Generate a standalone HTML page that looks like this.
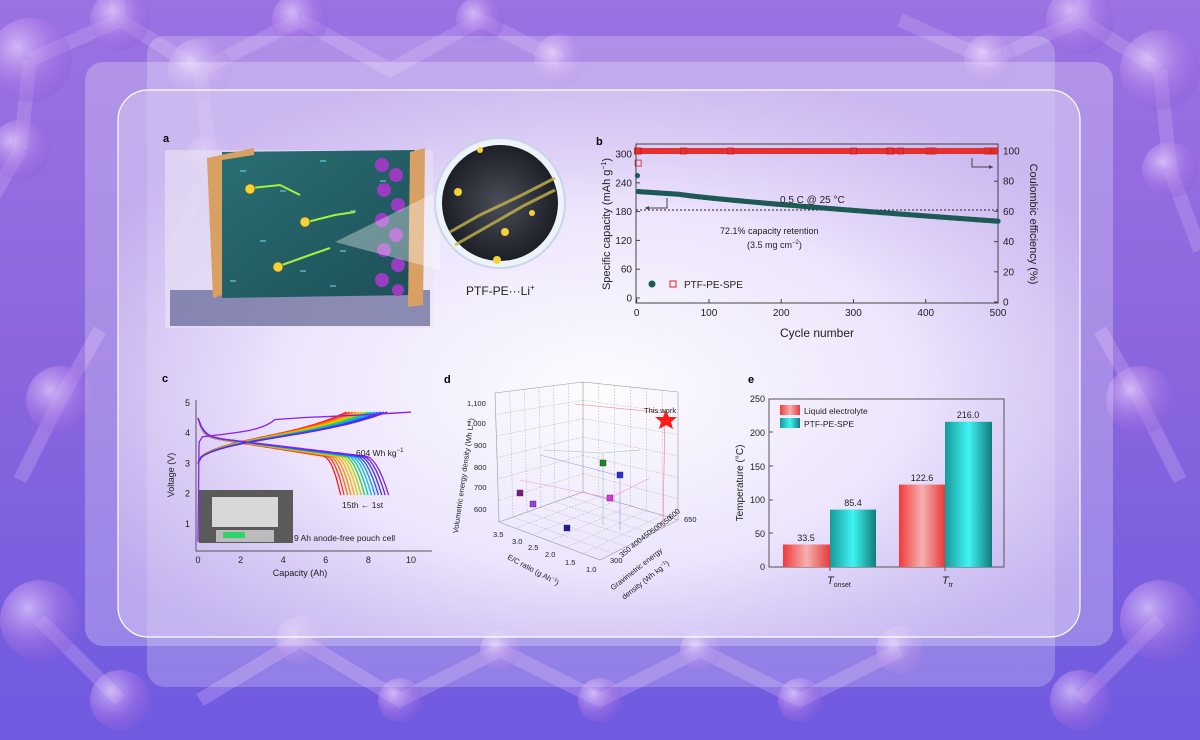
<!DOCTYPE html>
<html><head><meta charset="utf-8">
<style>
html,body{margin:0;padding:0;width:1200px;height:740px;overflow:hidden;}
body{background:linear-gradient(180deg,#9a72e2 0%,#8a66de 50%,#6f5ae0 100%);font-family:"Liberation Sans",Arial,sans-serif;position:relative;}
svg{position:absolute;left:0;top:0;}
text{font-family:"Liberation Sans",Arial,sans-serif;}
</style></head>
<body>
<svg width="1200" height="740" viewBox="0 0 1200 740" xmlns="http://www.w3.org/2000/svg">
<defs>
<radialGradient id="glow" cx="0.5" cy="0.55" r="0.6">
<stop offset="0" stop-color="#ffffff" stop-opacity="0.97"/>
<stop offset="0.55" stop-color="#f6f0ff" stop-opacity="0.85"/>
<stop offset="1" stop-color="#d6c4f3" stop-opacity="0.55"/>
</radialGradient>
<radialGradient id="ball" cx="0.35" cy="0.35" r="0.7">
<stop offset="0" stop-color="#e9d6ff" stop-opacity="0.7"/>
<stop offset="0.6" stop-color="#b07ce8" stop-opacity="0.45"/>
<stop offset="1" stop-color="#8a5cd8" stop-opacity="0.3"/>
</radialGradient>
<linearGradient id="redbar" x1="0" x2="1"><stop offset="0" stop-color="#f03a3a"/><stop offset="0.5" stop-color="#f6b0b0"/><stop offset="1" stop-color="#e63a3a"/></linearGradient>
<linearGradient id="cyanbar" x1="0" x2="1"><stop offset="0" stop-color="#159a98"/><stop offset="0.5" stop-color="#3ff4f4"/><stop offset="1" stop-color="#137a7a"/></linearGradient>
<linearGradient id="teal" x1="0" x2="1" y1="0" y2="1"><stop offset="0" stop-color="#2a6f73"/><stop offset="1" stop-color="#1d4f58"/></linearGradient>
<radialGradient id="circ" cx="0.5" cy="0.5" r="0.5"><stop offset="0" stop-color="#4a4e58"/><stop offset="1" stop-color="#1c1f26"/></radialGradient>
</defs>
<!-- background molecules -->
<g id="mol" stroke="#c9a8f2" stroke-opacity="0.35" stroke-width="14" fill="none">
<path d="M30 60 L120 20 L200 70 L300 20 M30 60 L20 150 M200 70 L210 160 M120 20 L110 -40 M300 20 L390 70 L480 20 L560 60 M900 20 L990 60 L1080 20 L1160 70 M1160 70 L1170 170 M1080 20 L1090 -30 M20 150 L-20 220 M210 160 L170 260 M1170 170 L1200 250 M60 400 L20 480 M60 400 L100 330 M1140 400 L1180 480 M1140 400 L1100 330 M40 620 L120 700 M1160 620 L1080 700 M300 640 L400 700 L500 650 L600 700 L700 650 L800 700 L900 650 M200 700 L300 640"/>
</g>
<g fill="url(#ball)">
<circle cx="30" cy="60" r="42"/><circle cx="120" cy="20" r="30"/><circle cx="200" cy="70" r="32"/><circle cx="300" cy="20" r="28"/>
<circle cx="20" cy="150" r="30"/><circle cx="210" cy="160" r="26"/><circle cx="1080" cy="20" r="34"/><circle cx="1160" cy="70" r="40"/>
<circle cx="1170" cy="170" r="28"/><circle cx="990" cy="60" r="26"/><circle cx="60" cy="400" r="34"/><circle cx="1140" cy="400" r="34"/>
<circle cx="40" cy="620" r="40"/><circle cx="1160" cy="620" r="40"/><circle cx="120" cy="700" r="30"/><circle cx="1080" cy="700" r="30"/>
<circle cx="400" cy="700" r="22"/><circle cx="600" cy="700" r="22"/><circle cx="800" cy="700" r="22"/><circle cx="500" cy="650" r="20"/><circle cx="700" cy="650" r="20"/><circle cx="300" cy="640" r="24"/><circle cx="900" cy="650" r="24"/>
<circle cx="560" cy="60" r="26"/><circle cx="480" cy="20" r="24"/>
</g>
<!-- panels -->
<rect x="147" y="36" width="908" height="651" rx="18" fill="#ffffff" fill-opacity="0.22"/>
<rect x="85" y="62" width="1028" height="584" rx="18" fill="#ffffff" fill-opacity="0.25"/>
<rect x="118" y="90" width="962" height="547" rx="30" fill="url(#glow)"/>
<rect x="118" y="90" width="962" height="547" rx="30" fill="none" stroke="#ffffff" stroke-width="1.2"/>

<!-- Panel a -->
<text x="163" y="142" font-size="11" font-weight="bold">a</text>
<rect x="165" y="150" width="268" height="178" fill="#e9e2f4" opacity="0.6"/>
<rect x="170" y="290" width="260" height="36" fill="#3b3f7a" opacity="0.55"/>
<polygon points="222,152 415,150 412,295 222,298" fill="url(#teal)"/>
<g fill="#6fe3ef" opacity="0.5">
<rect x="240" y="170" width="6" height="2"/><rect x="280" y="190" width="6" height="2"/><rect x="320" y="160" width="6" height="2"/><rect x="350" y="210" width="6" height="2"/><rect x="260" y="240" width="6" height="2"/><rect x="300" y="270" width="6" height="2"/><rect x="340" y="250" width="6" height="2"/><rect x="380" y="180" width="6" height="2"/><rect x="230" y="280" width="6" height="2"/><rect x="330" y="285" width="6" height="2"/>
</g>
<g fill="#9a3bc0">
<circle cx="382" cy="165" r="7"/><circle cx="396" cy="175" r="7"/><circle cx="384" cy="190" r="7"/><circle cx="398" cy="205" r="7"/><circle cx="382" cy="220" r="7"/><circle cx="396" cy="235" r="7"/><circle cx="384" cy="250" r="7"/><circle cx="398" cy="265" r="7"/><circle cx="382" cy="280" r="7"/><circle cx="398" cy="290" r="6"/>
</g>
<polygon points="207,158 254,148 254,155 222,160 222,295 213,298" fill="#d9a063"/>
<polygon points="410,152 425,148 423,305 408,307" fill="#d9a063"/>
<g stroke="#a6f23a" stroke-width="2" fill="none"><path d="M252,188 L280,185 L300,195"/><path d="M307,222 L335,215 L355,212"/><path d="M282,265 L310,255 L330,248"/></g>
<g fill="#f3d23a" stroke="#6b5a10" stroke-width="0.6"><circle cx="250" cy="189" r="5"/><circle cx="305" cy="222" r="5"/><circle cx="278" cy="267" r="5"/></g>
<polygon points="335,242 440,190 440,270" fill="#ffffff" opacity="0.35"/>
<circle cx="500" cy="203" r="65" fill="#eef3fb" stroke="#c8d6ea" stroke-width="2"/>
<circle cx="500" cy="203" r="58" fill="url(#circ)"/>
<g stroke="#c6b44a" stroke-width="3" opacity="0.8"><path d="M450,232 L480,215 L520,196 L555,178"/><path d="M455,245 L490,225 L525,205 L555,190"/></g>
<g fill="#f3d23a"><circle cx="458" cy="192" r="4"/><circle cx="505" cy="232" r="4"/><circle cx="497" cy="260" r="4"/><circle cx="532" cy="213" r="3"/><circle cx="480" cy="150" r="3"/></g>
<text x="466" y="295" font-size="12" fill="#222">PTF-PE···Li<tspan font-size="8" dy="-5">+</tspan></text>

<!-- Panel b -->
<text x="596" y="145" font-size="11" font-weight="bold">b</text>
<rect x="636" y="144" width="362" height="159" fill="none" stroke="#444" stroke-width="1"/>
<g id="bticks" font-size="10" fill="#222"></g>
<text x="817" y="337" font-size="12" text-anchor="middle" fill="#222">Cycle number</text>
<text transform="translate(610,224) rotate(-90)" font-size="11" text-anchor="middle" fill="#222">Specific capacity (mAh g<tspan font-size="7" dy="-4">−1</tspan><tspan dy="4">)</tspan></text>
<text transform="translate(1030,224) rotate(90)" font-size="11" text-anchor="middle" fill="#222">Coulombic efficiency (%)</text>
<line x1="636" y1="210" x2="1000" y2="210" stroke="#222" stroke-dasharray="2,2" stroke-width="1"/>
<g id="bdata"></g>
<text x="780" y="203" font-size="10" fill="#222">0.5 C @ 25 °C</text>
<text x="720" y="234" font-size="9" fill="#222">72.1% capacity retention</text>
<text x="747" y="248" font-size="9" fill="#222">(3.5 mg cm<tspan font-size="6" dy="-4">−2</tspan><tspan dy="4">)</tspan></text>
<path d="M667,198 L667,208 L645,208" stroke="#444" fill="none"/><path d="M645,208 l4,-2 l0,4z" fill="#444"/>
<path d="M972,158 L972,167 L993,167" stroke="#444" fill="none"/><path d="M993,167 l-4,-2 l0,4z" fill="#444"/>
<circle cx="652" cy="284" r="3.5" fill="#1e5a55"/>
<rect x="670" y="281" width="6" height="6" fill="none" stroke="#e02020"/>
<text x="684" y="288" font-size="10" fill="#222">PTF-PE-SPE</text>

<!-- Panel c -->
<text x="162" y="382" font-size="11" font-weight="bold">c</text>
<path d="M196,400 L196,551 L432,551" fill="none" stroke="#555" stroke-width="1"/>
<g id="cticks" font-size="9" fill="#222"></g>
<text x="300" y="576" font-size="9" text-anchor="middle" fill="#222">Capacity (Ah)</text>
<text transform="translate(174,475) rotate(-90)" font-size="9" text-anchor="middle" fill="#222">Voltage (V)</text>
<g id="cdata" fill="none" stroke-width="1.3"></g>
<rect x="199" y="490" width="94" height="53" fill="#5a5a5a"/>
<rect x="212" y="497" width="66" height="30" fill="#d8d8d8"/>
<rect x="216" y="530" width="58" height="12" fill="#bbb"/>
<rect x="223" y="532" width="22" height="6" fill="#2fd36a"/>
<text x="294" y="541" font-size="8.5" fill="#222">9 Ah anode-free pouch cell</text>
<text x="356" y="456" font-size="8.5" fill="#222">604 Wh kg<tspan font-size="6" dy="-4">−1</tspan></text>
<text x="342" y="508" font-size="8.5" fill="#222">15th ← 1st</text>

<!-- Panel d -->
<text x="444" y="383" font-size="11" font-weight="bold">d</text>
<g stroke="#999" stroke-width="0.6" fill="none">
<path d="M499,522 L583,492 L678,520 L600,560 Z"/>
<path d="M495,393 L583,382 L678,392"/>
<path d="M499,522 L495,393 M583,492 L583,382 M678,520 L678,392"/>
</g>
<g id="dgrid" stroke="#aaa" stroke-width="0.5" stroke-dasharray="1.5,1.5" fill="none"></g>
<g font-size="7.5" fill="#222">
<text x="467" y="406">1,100</text><text x="467" y="426">1,000</text><text x="474" y="448">900</text><text x="474" y="470">800</text><text x="474" y="490">700</text><text x="474" y="512">600</text>
<text x="493" y="537">3.5</text><text x="512" y="544">3.0</text><text x="528" y="550">2.5</text><text x="545" y="557">2.0</text><text x="565" y="565">1.5</text><text x="586" y="572">1.0</text>
<text x="610" y="563">300</text><text transform="translate(622,558) rotate(-40)">350</text><text transform="translate(633,549) rotate(-40)">400</text><text transform="translate(643,541) rotate(-40)">450</text><text transform="translate(653,534) rotate(-40)">500</text><text transform="translate(663,527) rotate(-40)">550</text><text transform="translate(671,520) rotate(-40)">600</text><text x="684" y="522">650</text>
</g>
<text transform="translate(466,476) rotate(-82)" font-size="7.5" text-anchor="middle" fill="#222">Volumetric energy density (Wh L<tspan font-size="5" dy="-3">−1</tspan><tspan dy="3">)</tspan></text>
<text transform="translate(532,572) rotate(28)" font-size="7.5" text-anchor="middle" fill="#222">E/C ratio (g Ah<tspan font-size="5" dy="-3">−1</tspan><tspan dy="3">)</tspan></text>
<text transform="translate(638,571) rotate(-38)" font-size="7.5" text-anchor="middle" fill="#222">Gravimetric energy</text>
<text transform="translate(647,582) rotate(-38)" font-size="7.5" text-anchor="middle" fill="#222">density (Wh kg<tspan font-size="5" dy="-3">−1</tspan><tspan dy="3">)</tspan></text>
<g stroke-width="0.6" fill="none">
<path d="M575,404 L665,413 L663,525" stroke="#f08080"/>
<path d="M543,450 L603,453 L603,525 M603,453 L640,450" stroke="#9c9" />
<path d="M540,455 L620,476 L620,530" stroke="#99f"/>
<path d="M520,480 L610,498 L650,478" stroke="#e9e"/>
</g>
<g stroke="#333" stroke-width="0.4">
<rect x="517" y="490" width="6" height="6" fill="#7a1a7a"/>
<rect x="530" y="501" width="6" height="6" fill="#9a40d8"/>
<rect x="564" y="525" width="6" height="6" fill="#1a1a9a"/>
<rect x="600" y="460" width="6" height="6" fill="#1a8a1a"/>
<rect x="617" y="472" width="6" height="6" fill="#2a2ae0"/>
<rect x="607" y="495" width="6" height="6" fill="#e030e0"/>
</g>
<polygon points="666,410 669,417 677,417 671,422 673,429 666,425 659,429 661,422 655,417 663,417" fill="#ff1a1a"/>
<text x="644" y="413" font-size="7.5" fill="#222">This work</text>

<!-- Panel e -->
<text x="748" y="383" font-size="11" font-weight="bold">e</text>
<rect x="769" y="399" width="235" height="168" fill="none" stroke="#555" stroke-width="1"/>
<g font-size="9" fill="#222" text-anchor="end">
<text x="765" y="570">0</text><text x="765" y="537">50</text><text x="765" y="503">100</text><text x="765" y="470">150</text><text x="765" y="436">200</text><text x="765" y="402">250</text>
</g>
<g stroke="#555"><line x1="769" y1="533" x2="773" y2="533"/><line x1="769" y1="500" x2="773" y2="500"/><line x1="769" y1="466" x2="773" y2="466"/><line x1="769" y1="432" x2="773" y2="432"/><line x1="830" y1="567" x2="830" y2="571"/><line x1="945" y1="567" x2="945" y2="571"/></g>
<rect x="783" y="544.5" width="47" height="22.5" fill="url(#redbar)"/>
<rect x="830" y="509.6" width="46" height="57.4" fill="url(#cyanbar)"/>
<rect x="899" y="484.6" width="46" height="82.4" fill="url(#redbar)"/>
<rect x="945" y="421.8" width="47" height="145.2" fill="url(#cyanbar)"/>
<g font-size="9" fill="#222" text-anchor="middle">
<text x="806" y="541">33.5</text><text x="853" y="506">85.4</text><text x="922" y="481">122.6</text><text x="968" y="418">216.0</text>
</g>
<rect x="780" y="405" width="20" height="10" fill="url(#redbar)"/>
<rect x="780" y="418" width="20" height="10" fill="url(#cyanbar)"/>
<text x="804" y="414" font-size="8.5" fill="#222">Liquid electrolyte</text>
<text x="804" y="427" font-size="8.5" fill="#222">PTF-PE-SPE</text>
<text transform="translate(743,483) rotate(-90)" font-size="10" text-anchor="middle" fill="#222">Temperature (°C)</text>
<text x="827" y="584" font-size="11" font-style="italic" fill="#222">T<tspan font-style="normal" font-size="7" dy="3">onset</tspan></text>
<text x="942" y="584" font-size="11" font-style="italic" fill="#222">T<tspan font-style="normal" font-size="7" dy="3">tr</tspan></text>
</svg>
<script>
var NS="http://www.w3.org/2000/svg";
function el(p,t,a,txt){var e=document.createElementNS(NS,t);for(var k in a)e.setAttribute(k,a[k]);if(txt!==undefined)e.textContent=txt;p.appendChild(e);return e;}
// panel b
var bt=document.getElementById('bticks');
function bx(c){return 636.7+c*0.7226;}
function by(v){return 298-v*0.48;}
function br(p){return 302-p*1.51;}
for(var c=0;c<=500;c+=100){el(bt,'text',{x:bx(c),y:316,'text-anchor':'middle'},c);el(bt,'line',{x1:bx(c),y1:303,x2:bx(c),y2:299,stroke:'#444'});}
for(var v=0;v<=300;v+=60){el(bt,'text',{x:632,y:by(v)+3.5,'text-anchor':'end'},v);el(bt,'line',{x1:636,y1:by(v),x2:640,y2:by(v),stroke:'#444'});}
for(var p=0;p<=100;p+=20){el(bt,'text',{x:1003,y:br(p)+3.5},p);el(bt,'line',{x1:994,y1:br(p),x2:998,y2:br(p),stroke:'#444'});}
var bd=document.getElementById('bdata');
el(bd,'rect',{x:636,y:br(100)-3,width:362,height:6,fill:'#e53030'});
for(c=2;c<=500;c+=2){var cap=c<60?(222-0.1*c):(216-56*Math.pow((c-60)/440,0.85));el(bd,'circle',{cx:bx(c),cy:by(cap),r:2.6,fill:'#1e5a55'});}
el(bd,'circle',{cx:bx(1),cy:by(255),r:2.6,fill:'#1e5a55'});
[1,2,65,130,300,350,352,365,405,410,485,490,495].forEach(function(c){el(bd,'rect',{x:bx(c)-3,y:br(100)-3,width:6,height:6,fill:'none',stroke:'#d02020','stroke-width':0.8});});
el(bd,'rect',{x:bx(2)-3,y:br(92)-3,width:6,height:6,fill:'none',stroke:'#d02020','stroke-width':0.8});
// panel c
var ct=document.getElementById('cticks');
function cx(q){return 198+q*21.3;}function cy(v){return 554-v*30.2;}
for(var q=0;q<=10;q+=2){el(ct,'text',{x:cx(q),y:563,'text-anchor':'middle'},q);}
for(v=1;v<=5;v++){el(ct,'text',{x:190,y:cy(v)+3,'text-anchor':'end'},v);}
var cd=document.getElementById('cdata');
var cols=['#ff1a1a','#ff3a10','#ff6a00','#ff8c00','#ffb000','#e0c800','#a8d800','#40c840','#00c8a0','#00c0e0','#1a90ff','#2a50ff','#4030f0','#6a20e8','#8a20f0'];
for(var i=0;i<15;i++){var Q=6.7+i*(8.95-6.7)/14;var col=cols[i];
 var d='',d2='';
 for(var k=0;k<=60;k++){var t=k/60;var V=3.9-0.75*t+0.6*Math.exp(-t/0.03);if(t>0.88)V-=1.2*Math.pow((t-0.88)/0.12,2);d+=(k?'L':'M')+cx(Q*t).toFixed(1)+','+cy(V).toFixed(1);}
 el(cd,'path',{d:d,stroke:col});
 if(i<14){for(k=0;k<=60;k++){t=k/60;V=3.0+1.25*Math.pow(t,0.45)+0.45*Math.pow(t,4);var Qc=Q*0.92+0.8;d2+=(k?'L':'M')+cx(Qc*t).toFixed(1)+','+cy(V).toFixed(1);}
 el(cd,'path',{d:d2,stroke:col});}
}
el(cd,'path',{d:'M'+cx(0)+','+cy(0.4)+' L'+cx(0.05)+','+cy(3.7)+' L'+cx(0.2)+','+cy(3.88)+' C'+cx(1.5)+','+cy(4.0)+' '+cx(3)+','+cy(4.05)+' '+cx(3.6)+','+cy(4.45)+' L'+cx(5)+','+cy(4.52)+' C'+cx(8)+','+cy(4.6)+' '+cx(9.5)+','+cy(4.68)+' '+cx(10)+','+cy(4.7),stroke:'#8a20f0'});
// panel d grid
var g=document.getElementById('dgrid');
for(var j=1;j<6;j++){var f=j/6;
 el(g,'line',{x1:495+4*f,y1:393+129*f,x2:583,y2:382+110*f});
 el(g,'line',{x1:583,y1:382+110*f,x2:678,y2:392+128*f});
 el(g,'line',{x1:495+88*f,y1:393-11*f,x2:499+84*f,y2:522-30*f});
 el(g,'line',{x1:583+95*f,y1:382+10*f,x2:583+95*f,y2:492+28*f});
 el(g,'line',{x1:499+84*f,y1:522-30*f,x2:600+78*f,y2:560-40*f});
 el(g,'line',{x1:583+95*f,y1:492+28*f,x2:499+101*f,y2:522+38*f});
}
</script>
</body></html>
